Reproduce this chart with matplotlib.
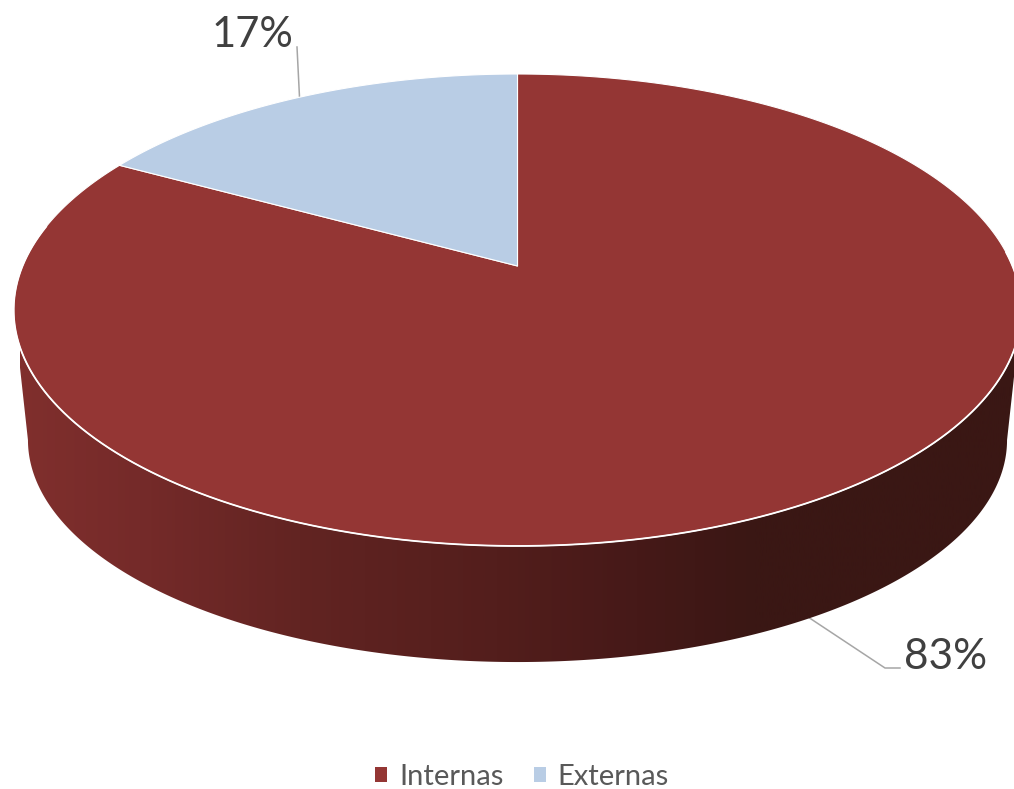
import numpy as np
import matplotlib
matplotlib.use("Agg")
import matplotlib.pyplot as plt
from matplotlib.colors import LinearSegmentedColormap
from matplotlib.patches import Patch, Polygon

plt.rcParams['font.family'] = ['Lato', 'DejaVu Sans']

# Datos del grafico
categorias = ['Internas', 'Externas']
porcentajes = [83, 17]
colores = ['#943634', '#b9cde5']

ANCHO, ALTO = 1014, 789
CX = 517.5


def proyectar(ang, k, a, b, c):
    # ang en radianes, 0 = las 12, sentido horario; proyeccion con perspectiva
    u = np.sin(ang)
    v = np.cos(ang)
    d = 1 + c * v
    return CX + k * u / d, (a * v + b) / d


# Cara superior e inferior del disco
SUP = dict(k=495.0, a=-178.2, b=266.0, c=0.1864)
INF = dict(k=481.0, a=-140.2, b=398.7, c=0.186)

fig = plt.figure(figsize=(ANCHO / 100, ALTO / 100), dpi=100)
ax = fig.add_axes([0, 0, 1, 1])
ax.set_xlim(0, ANCHO)
ax.set_ylim(ALTO, 0)
ax.axis('off')

# Pared lateral: degradado horizontal recortado con el contorno del disco
giro = np.arccos(SUP['c'])
t_pared = np.linspace(np.pi - giro, np.pi + giro, 400)
xs_sup, ys_sup = proyectar(t_pared, **SUP)
xs_inf, ys_inf = proyectar(t_pared, **INF)
contorno = np.c_[np.r_[xs_sup, xs_inf[::-1]], np.r_[ys_sup, ys_inf[::-1]]]

paradas = [(0.00, '#802f2d'), (0.13, '#742a29'), (0.28, '#622422'),
           (0.48, '#531e1c'), (0.62, '#461918'), (0.74, '#3a1714'), (1.00, '#3a1714')]
degradado = LinearSegmentedColormap.from_list('pared', paradas)
img = ax.imshow(np.linspace(0, 1, 512)[None, :], cmap=degradado, aspect='auto',
                extent=(20, ANCHO, ALTO, 0), zorder=2)
pared = Polygon(contorno, closed=True, transform=ax.transData, facecolor='none', edgecolor='none')
ax.add_patch(pared)
img.set_clip_path(pared)
ax.set_xlim(0, ANCHO)
ax.set_ylim(ALTO, 0)

# Sectores de la cara superior, desde las 12 en sentido horario
total = sum(porcentajes)
centro = (CX, SUP['b'])
inicio = 0.0
for valor, color in zip(porcentajes, colores):
    fin = inicio + 2 * np.pi * valor / total
    t = np.linspace(inicio, fin, 300)
    xs, ys = proyectar(t, **SUP)
    ax.fill(np.r_[centro[0], xs], np.r_[centro[1], ys], facecolor=color, edgecolor='white',
            lw=0.8, zorder=3, joinstyle='round')
    inicio = fin

# Filo blanco en la parte delantera del disco
t = np.linspace(np.pi - 1.63, np.pi + 1.75, 300)
xs, ys = proyectar(t, **SUP)
ax.plot(xs, ys, color='white', lw=1.3, zorder=4)

# Lineas guia y etiquetas de porcentaje
ax.plot([805, 885, 900], [615, 668, 668], color='#a6a6a6', lw=1.1, zorder=1)
ax.plot([297, 299.5], [47, 97], color='#a6a6a6', lw=1.1, zorder=1)
ax.text(904, 669, f'{porcentajes[0]}%', fontsize=30.5, color='#404040', ha='left', va='baseline')
ax.text(212, 47, f'{porcentajes[1]}%', fontsize=30, color='#404040', ha='left', va='baseline')

# Leyenda
manejadores = [Patch(facecolor=c, edgecolor='none', label=n) for c, n in zip(colores, categorias)]
ax.legend(handles=manejadores, loc='center', bbox_to_anchor=(522 / ANCHO, 1 - 777 / ALTO),
          ncol=2, frameon=False, fontsize=21, labelcolor='#595959',
          handlelength=0.4, handleheight=0.4, handletextpad=0.42, columnspacing=1.05,
          borderpad=0, borderaxespad=0)

fig.savefig('out.png', dpi=100, facecolor='white')
